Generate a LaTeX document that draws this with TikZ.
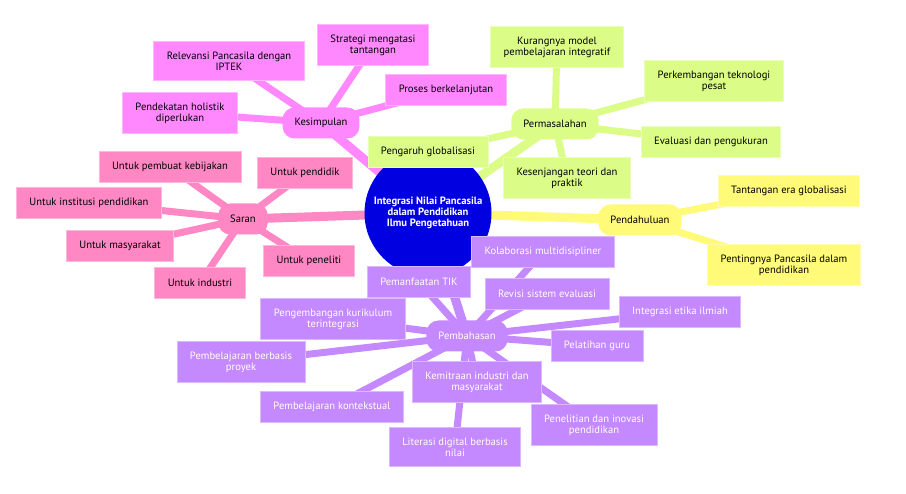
\documentclass[tikz,border=0pt]{standalone}
\usepackage{fontspec}
\setmainfont{PT Sans}
\usetikzlibrary{backgrounds}

\definecolor{hubblue}{HTML}{0000E0}
\definecolor{kescol}{HTML}{FF88FF}
\definecolor{percol}{HTML}{DBFD87}
\definecolor{sarcol}{HTML}{FF88C4}
\definecolor{pencol}{HTML}{FFFA77}
\definecolor{pemcol}{HTML}{C489FF}

\begin{document}
\begin{tikzpicture}[x=1pt,y=-1pt,font=\fontsize{10.6}{11}\selectfont]
\tikzstyle{topic} = [circle, fill=hubblue, text=white, align=center, minimum size=127pt, inner sep=0pt, font=\fontsize{10.6}{11}\selectfont\bfseries]
\tikzstyle{branch} = [rectangle, rounded corners=12pt, align=center, minimum height=31pt, inner xsep=12pt, inner ysep=10pt]
\tikzstyle{leaf} = [rectangle, draw, line width=0.8pt, align=center, minimum height=31pt, inner xsep=13pt, inner ysep=10pt]
\tikzstyle{kes} = [fill=kescol, draw=kescol!60!white]
\tikzstyle{per} = [fill=percol, draw=percol!60!white]
\tikzstyle{sar} = [fill=sarcol, draw=sarcol!60!white]
\tikzstyle{pen} = [fill=pencol, draw=pencol!60!white]
\tikzstyle{pem} = [fill=pemcol, draw=pemcol!60!white, text=white]
\tikzstyle{trunk} = [line width=9pt]
\tikzstyle{twig} = [line width=7pt]

\useasboundingbox (0,0) rectangle (906,494);

% centre
\node (topic) [topic] at (428,213) {Integrasi Nilai Pancasila\\dalam Pendidikan\\Ilmu Pengetahuan};

% Kesimpulan
\node (kesimpulan) [branch, kes, draw=none] at (321,123) {Kesimpulan};
\node (relevansi) [leaf, kes] at (229,61) {Relevansi Pancasila dengan\\IPTEK};
\node (strategi) [leaf, kes] at (373,45) {Strategi mengatasi\\tantangan};
\node (proses) [leaf, kes] at (446,90) {Proses berkelanjutan};
\node (holistik) [leaf, kes] at (180,113) {Pendekatan holistik\\diperlukan};

% Permasalahan
\node (permasalahan) [branch, per, draw=none] at (555,124) {Permasalahan};
\node (kurangnya) [leaf, per] at (557,47) {Kurangnya model\\pembelajaran integratif};
\node (perkembangan) [leaf, per] at (714,81) {Perkembangan teknologi\\pesat};
\node (evaluasi) [leaf, per] at (711,142) {Evaluasi dan pengukuran};
\node (kesenjangan) [leaf, per] at (567,178) {Kesenjangan teori dan\\praktik};
\node (pengaruh) [leaf, per] at (428,152) {Pengaruh globalisasi};

% Pendahuluan
\node (pendahuluan) [branch, pen, draw=none] at (640,220) {Pendahuluan};
\node (tantangan) [leaf, pen] at (789,191) {Tantangan era globalisasi};
\node (pentingnya) [leaf, pen] at (784,265) {Pentingnya Pancasila dalam\\pendidikan};

% Saran
\node (saran) [branch, sar, draw=none] at (243,219) {Saran};
\node (kebijakan) [leaf, sar] at (170,167) {Untuk pembuat kebijakan};
\node (pendidik) [leaf, sar] at (305,173) {Untuk pendidik};
\node (institusi) [leaf, sar] at (89,203) {Untuk institusi pendidikan};
\node (masyarakat) [leaf, sar] at (120,246) {Untuk masyarakat};
\node (peneliti) [leaf, sar] at (309,261) {Untuk peneliti};
\node (industri) [leaf, sar] at (200,283) {Untuk industri};

% Pembahasan
\node (pembahasan) [branch, pem, draw=none] at (467,336) {Pembahasan};
\node (pemanfaatan) [leaf, pem] at (419,282) {Pemanfaatan TIK};
\node (kolaborasi) [leaf, pem] at (543,252) {Kolaborasi multidisipliner};
\node (revisi) [leaf, pem] at (547,294) {Revisi sistem evaluasi};
\node (kurikulum) [leaf, pem] at (333,319) {Pengembangan kurikulum\\terintegrasi};
\node (etika) [leaf, pem] at (680,312) {Integrasi etika ilmiah};
\node (pelatihan) [leaf, pem] at (597,346) {Pelatihan guru};
\node (proyek) [leaf, pem] at (241,362) {Pembelajaran berbasis\\proyek};
\node (kemitraan) [leaf, pem] at (477,382) {Kemitraan industri dan\\masyarakat};
\node (kontekstual) [leaf, pem] at (332,407) {Pembelajaran kontekstual};
\node (literasi) [leaf, pem] at (455,447) {Literasi digital berbasis\\nilai};
\node (penelitian) [leaf, pem] at (594,425) {Penelitian dan inovasi\\pendidikan};

% connectors behind the boxes
\begin{pgfonlayer}{background}
\draw [trunk, kescol] (topic.center) -- (kesimpulan.center);
\draw [trunk, percol] (topic.center) -- (permasalahan.center);
\draw [trunk, pencol] (topic.center) -- (pendahuluan.center);
\draw [trunk, sarcol] (topic.center) -- (saran.center);
\draw [trunk, pemcol] (topic.center) -- (pembahasan.center);

\draw [twig, kescol] (kesimpulan.center) -- (relevansi.center);
\draw [twig, kescol] (kesimpulan.center) -- (strategi.center);
\draw [twig, kescol] (kesimpulan.center) -- (proses.center);
\draw [twig, kescol] (kesimpulan.center) -- (holistik.center);

\draw [twig, percol] (permasalahan.center) -- (kurangnya.center);
\draw [twig, percol] (permasalahan.center) -- (perkembangan.center);
\draw [twig, percol] (permasalahan.center) -- (evaluasi.center);
\draw [twig, percol] (permasalahan.center) -- (kesenjangan.center);
\draw [twig, percol] (permasalahan.center) -- (pengaruh.center);

\draw [twig, pencol] (pendahuluan.center) -- (tantangan.center);
\draw [twig, pencol] (pendahuluan.center) -- (pentingnya.center);

\draw [twig, sarcol] (saran.center) -- (kebijakan.center);
\draw [twig, sarcol] (saran.center) -- (pendidik.center);
\draw [twig, sarcol] (saran.center) -- (institusi.center);
\draw [twig, sarcol] (saran.center) -- (masyarakat.center);
\draw [twig, sarcol] (saran.center) -- (peneliti.center);
\draw [twig, sarcol] (saran.center) -- (industri.center);

\draw [twig, pemcol] (pembahasan.center) -- (pemanfaatan.center);
\draw [twig, pemcol] (pembahasan.center) -- (kolaborasi.center);
\draw [twig, pemcol] (pembahasan.center) -- (revisi.center);
\draw [twig, pemcol] (pembahasan.center) -- (kurikulum.center);
\draw [twig, pemcol] (pembahasan.center) -- (etika.center);
\draw [twig, pemcol] (pembahasan.center) -- (pelatihan.center);
\draw [twig, pemcol] (pembahasan.center) -- (proyek.center);
\draw [twig, pemcol] (pembahasan.center) -- (kemitraan.center);
\draw [twig, pemcol] (pembahasan.center) -- (kontekstual.center);
\draw [twig, pemcol] (pembahasan.center) -- (literasi.center);
\draw [twig, pemcol] (pembahasan.center) -- (penelitian.center);
\end{pgfonlayer}
\end{tikzpicture}
\end{document}
